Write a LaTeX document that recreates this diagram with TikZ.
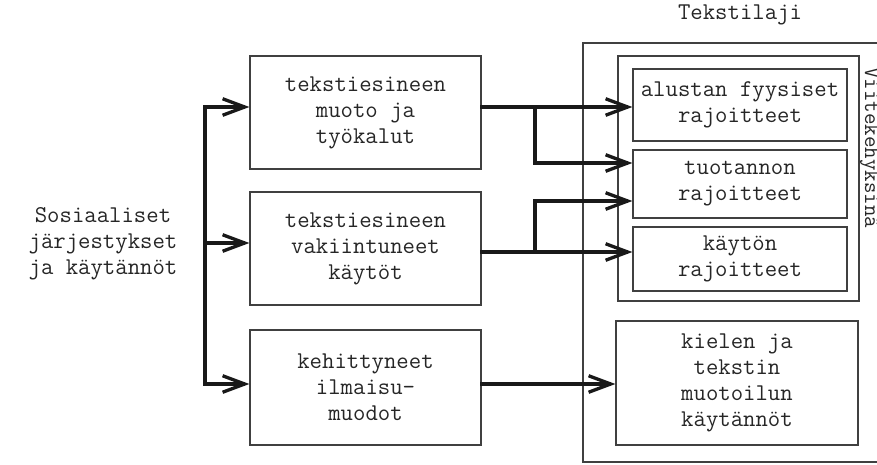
\documentclass[tikz,border=0pt]{standalone}
\usepackage{fontspec}
\usetikzlibrary{arrows.meta}

\newcommand{\boxfont}{\fontsize{13.7}{14.8}\selectfont\ttfamily}
\newcommand{\sidefont}{\fontsize{12.7}{14}\selectfont\ttfamily}

\begin{document}
\begin{tikzpicture}[
  x=0.02cm, y=-0.02cm,
  lbl/.style={font=\boxfont, text=black!85, align=center},
  box/.style={lbl, draw=black!75, line width=0.75pt, inner sep=0pt},
  frame/.style={draw=black!75, line width=0.75pt},
  line/.style={line width=1.9pt, black!90, line cap=rect},
  arr/.style={line, -{Straight Barb[length=4.4mm,width=3.3mm]}}
]
  \clip (0,0) rectangle (877,464);

  % left column
  \node[lbl] (sos) at (103,244) {Sosiaaliset\\järjestykset\\ja käytännöt};
  \node[box, minimum width=4.62cm, minimum height=2.26cm] (muoto) at (365.5,112.5) {tekstiesineen\\muoto ja\\työkalut};
  \node[box, minimum width=4.62cm, minimum height=2.26cm] (vak) at (365.5,248.5) {tekstiesineen\\vakiintuneet\\käytöt};
  \node[box, minimum width=4.62cm, minimum height=2.3cm] (keh) at (365.5,387.5) {kehittyneet\\ilmaisu-\\muodot};

  % genre side
  \node[lbl] (laji) at (740,15) {Tekstilaji};
  \draw[frame] (583,43) rectangle (897,462);
  \draw[frame] (618,56) rectangle (859,301);
  \node[box, minimum width=4.28cm, minimum height=1.44cm] (alustan) at (740,105) {alustan fyysiset\\rajoitteet};
  \node[box, minimum width=4.28cm, minimum height=1.36cm] (tuotannon) at (740,184) {tuotannon\\rajoitteet};
  \node[box, minimum width=4.28cm, minimum height=1.28cm] (kaytto) at (740,259) {käytön\\rajoitteet};
  \node[box, minimum width=4.84cm, minimum height=2.48cm] (kielen) at (737,383) {kielen ja\\tekstin\\muotoilun\\käytännöt};
  \node[font=\sidefont, text=black!85, rotate=-90, anchor=base west, inner sep=0pt] (kehys) at (865,67) {Viitekehyksinä};

  % connectors
  \coordinate (s1) at (205,107);
  \coordinate (s2) at (205,243);
  \coordinate (s3) at (205,384);
  \coordinate (j1) at (535,107);
  \coordinate (j2) at (535,252);
  \draw[arr] (s3) |- (s1 -| muoto.west);
  \draw[arr] (s2) -- (s2 -| vak.west);
  \draw[arr] (s3) -- (s3 -| keh.west);
  \draw[arr] (muoto.east |- j1) -- (alustan.west |- j1);
  \draw[arr] (j1) |- ([yshift=0.42cm]tuotannon.west);
  \draw[arr] (vak.east |- j2) -- (kaytto.west |- j2);
  \draw[arr] (j2) |- ([yshift=-0.34cm]tuotannon.west);
  \draw[arr] (keh.east |- s3) -- (kielen.west |- s3);
\end{tikzpicture}
\end{document}
